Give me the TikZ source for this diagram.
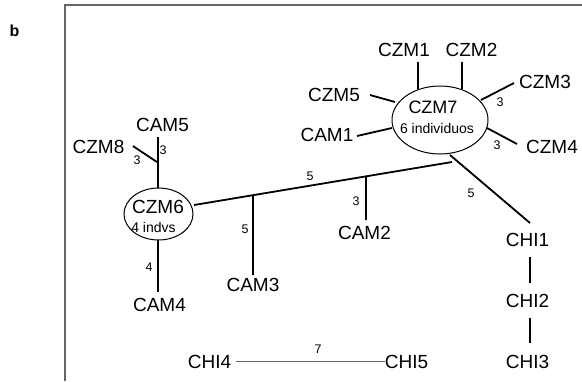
\documentclass[tikz,border=0pt]{standalone}
\usepackage{fontspec}
\setmainfont{Liberation Sans}
\usetikzlibrary{shapes.geometric,calc}
\begin{document}
\begin{tikzpicture}[x=1pt,y=-1pt,
  lab/.style={inner sep=0pt, font=\fontsize{19}{19}\selectfont},
  lab7/.style={inner sep=0pt, font=\fontsize{18}{18}\selectfont},
  small/.style={inner sep=0pt, font=\fontsize{14}{14}\selectfont},
  num/.style={inner sep=0pt, font=\fontsize{12.5}{12.5}\selectfont},
  edge/.style={line width=1.8pt},
  thinedge/.style={line width=1.2pt, draw=black!60},
  ell/.style={ellipse, draw, line width=1pt, inner sep=0pt},
  frame/.style={line width=2pt, draw=black!60}]
\useasboundingbox (0,0) rectangle (582,381);
% panel letter and frame
\node[inner sep=0pt, font=\bfseries\fontsize{16}{16}\selectfont] (b) at (14.5,31) {b};
\coordinate (fbl) at (65,381);
\coordinate (ftl) at (65,5);
\coordinate (ftr) at (582,5);
\draw[frame] (fbl) -- (ftl) -- (ftr);

% CZM7 group
\node[ell, minimum width=96pt, minimum height=68pt] (czm7) at (440,120) {};
\node[lab7] (t7) at (433,107) {CZM7};
\node[small] (t7b) at (437,128) {6 individuos};
\node[lab] (czm1) at (404,50) {CZM1};
\node[lab] (czm2) at (471.5,50) {CZM2};
\node[lab] (czm3) at (545,82) {CZM3};
\node[lab] (czm5) at (334,95) {CZM5};
\node[lab] (cam1) at (327,135) {CAM1};
\node[lab] (czm4) at (552,147) {CZM4};
\coordinate (c1a) at (418,62);   \coordinate (c1b) at (418,89);
\coordinate (c2a) at (462,62);   \coordinate (c2b) at (462,89);
\coordinate (c3a) at (514,83);   \coordinate (c3b) at (481,100);
\coordinate (c5a) at (370,95);   \coordinate (c5b) at (395,102);
\coordinate (m1a) at (357,136);  \coordinate (m1b) at (392,128);
\coordinate (c4a) at (517,144);  \coordinate (c4b) at (487,128);
\draw[edge] (c1a) -- (c1b);
\draw[edge] (c2a) -- (c2b);
\draw[edge] (c3a) -- (c3b);
\draw[edge] (c5a) -- (c5b);
\draw[edge] (m1a) -- (m1b);
\draw[edge] (c4a) -- (c4b);
\node[num] (n3a) at (500,102) {3};
\node[num] (n4a) at (497,145) {3};

% CZM6 group
\node[ell, minimum width=69pt, minimum height=52pt] (czm6) at (158.5,214) {};
\node[lab] (t6) at (158,207) {CZM6};
\node[small] (t6b) at (153.5,227) {4 indvs};
\node[lab] (cam5) at (162.5,125) {CAM5};
\node[lab] (czm8) at (98.5,146.5) {CZM8};
\node[lab] (cam4) at (159.5,305) {CAM4};
\coordinate (c5top) at (158.3,137);
\coordinate (c5bot) at (158.3,188);
\coordinate (c8a) at (133,146);
\coordinate (c8b) at (157,162);
\coordinate (c4top) at (158.3,240);
\coordinate (c4bot) at (158.3,292);
\draw[edge] (c5top) -- (c5bot);
\draw[edge] (c8a) -- (c8b);
\draw[edge] (c4top) -- (c4bot);
\node[num] (n8) at (137,160) {3};
\node[num] (n5) at (163,150) {3};
\node[num] (n44) at (149,267) {4};

% main branch
\coordinate (ma) at (194,205);
\coordinate (J) at (452,162);
\draw[edge] (ma) -- (J);
\node[num] (nm) at (310,176) {5};
\coordinate (b3) at ($(ma)!0.2287!(J)$);
\coordinate (b2) at ($(ma)!0.6667!(J)$);
\node[lab] (cam3) at (253,284.5) {CAM3};
\node[lab] (cam2) at (364.5,233) {CAM2};
\coordinate (b3e) at (253,275);
\coordinate (b2e) at (366,220);
\draw[edge] (b3) -- (b3e);
\draw[edge] (b2) -- (b2e);
\node[num] (n33) at (245,229) {5};
\node[num] (n22) at (356,201) {3};

% CHI chain
\node[lab] (chi1) at (527.5,240) {CHI1};
\node[lab] (chi2) at (527.5,301) {CHI2};
\node[lab] (chi3) at (527.5,362) {CHI3};
\coordinate (h0) at (450,155);
\coordinate (h1) at (530,223);
\draw[edge] (h0) -- (h1);
\node[num] (nh) at (471,193) {5};
\coordinate (h12a) at (530,257); \coordinate (h12b) at (530,283);
\coordinate (h23a) at (530,318); \coordinate (h23b) at (530,343);
\draw[edge] (h12a) -- (h12b);
\draw[edge] (h23a) -- (h23b);

% CHI4 - CHI5
\node[lab] (chi4) at (209.5,361.5) {CHI4};
\node[lab] (chi5) at (406.5,361.5) {CHI5};
\draw[thinedge] ([xshift=5pt]chi4.east) -- (chi5.west);
\node[num] (n7) at (318,349) {7};
\end{tikzpicture}
\end{document}
